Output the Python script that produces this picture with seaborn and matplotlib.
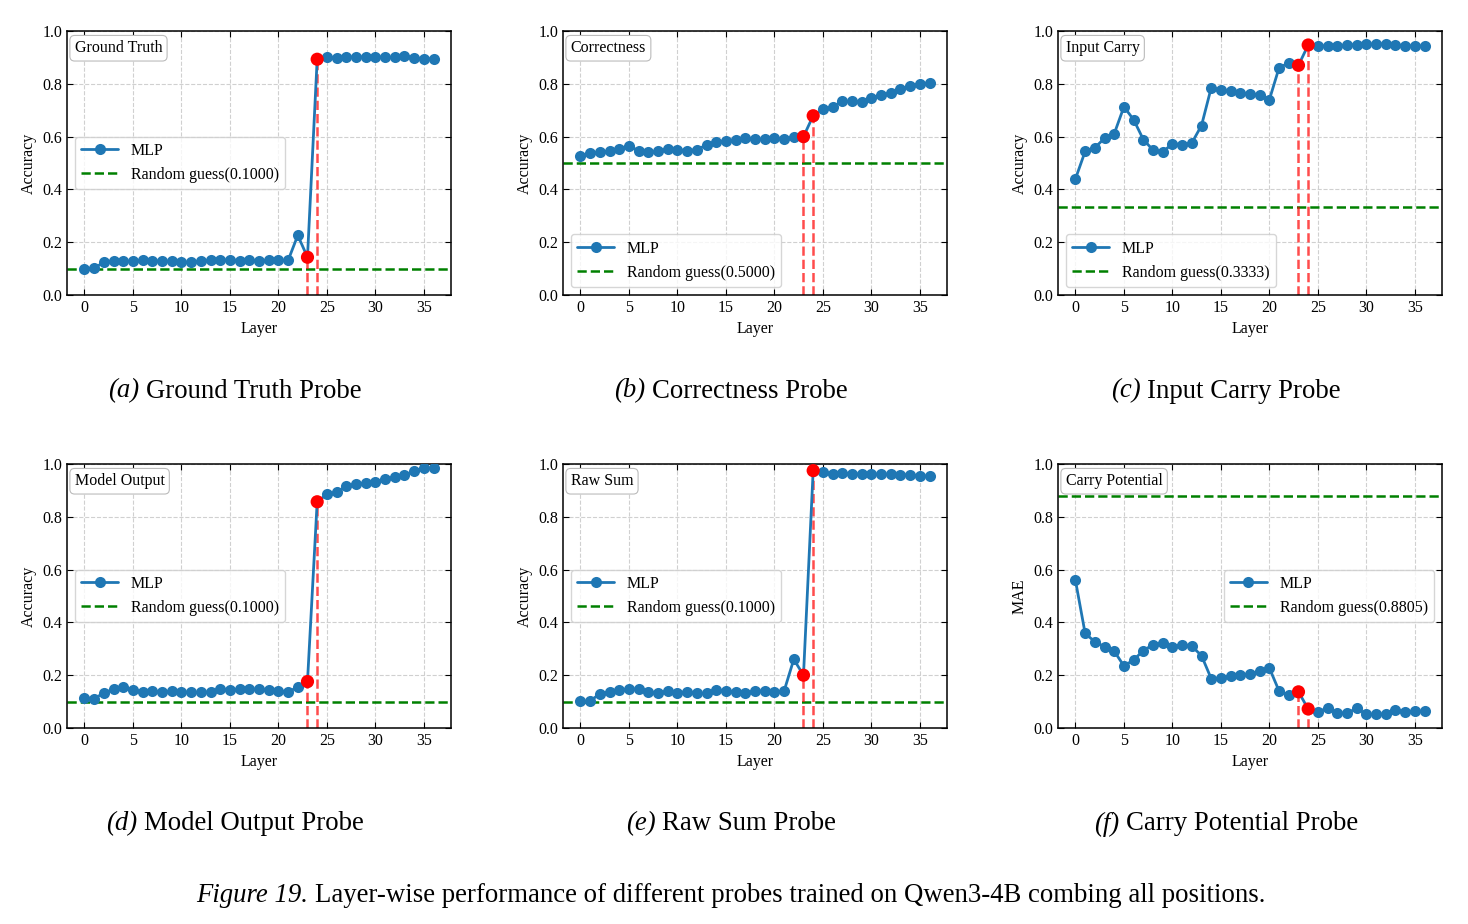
import matplotlib
matplotlib.use("Agg")
import matplotlib.pyplot as plt
import seaborn as sns
import pandas as pd

layers = list(range(37))

ground_truth = [0.100, 0.102, 0.124, 0.130, 0.128, 0.128, 0.131, 0.130, 0.128, 0.128,
                0.125, 0.124, 0.128, 0.131, 0.131, 0.134, 0.130, 0.131, 0.130, 0.131,
                0.131, 0.131, 0.226, 0.143, 0.893, 0.901, 0.896, 0.900, 0.903, 0.901,
                0.903, 0.901, 0.900, 0.904, 0.898, 0.895, 0.895]
correctness = [0.527, 0.536, 0.540, 0.546, 0.554, 0.566, 0.546, 0.540, 0.544, 0.554,
               0.550, 0.547, 0.551, 0.568, 0.579, 0.585, 0.588, 0.595, 0.590, 0.590,
               0.594, 0.592, 0.597, 0.600, 0.679, 0.703, 0.713, 0.733, 0.733, 0.731,
               0.748, 0.756, 0.766, 0.779, 0.793, 0.799, 0.804]
input_carry = [0.440, 0.544, 0.558, 0.594, 0.611, 0.713, 0.664, 0.589, 0.549, 0.542,
               0.573, 0.570, 0.576, 0.642, 0.785, 0.776, 0.774, 0.766, 0.762, 0.756,
               0.740, 0.861, 0.879, 0.870, 0.947, 0.943, 0.944, 0.943, 0.948, 0.948,
               0.949, 0.952, 0.951, 0.948, 0.944, 0.944, 0.943]
model_output = [0.115, 0.111, 0.133, 0.147, 0.154, 0.144, 0.137, 0.140, 0.137, 0.139,
                0.137, 0.135, 0.135, 0.137, 0.149, 0.144, 0.147, 0.147, 0.147, 0.143,
                0.140, 0.138, 0.154, 0.176, 0.857, 0.885, 0.893, 0.915, 0.924, 0.928,
                0.932, 0.943, 0.949, 0.957, 0.975, 0.984, 0.985]
raw_sum = [0.101, 0.102, 0.130, 0.137, 0.144, 0.147, 0.148, 0.137, 0.133, 0.139,
           0.134, 0.137, 0.131, 0.131, 0.144, 0.140, 0.138, 0.133, 0.140, 0.140,
           0.135, 0.140, 0.260, 0.200, 0.975, 0.968, 0.963, 0.966, 0.963, 0.962,
           0.962, 0.962, 0.961, 0.960, 0.958, 0.956, 0.953]
carry_potential = [0.559, 0.358, 0.327, 0.308, 0.291, 0.235, 0.258, 0.293, 0.316, 0.322,
                   0.307, 0.316, 0.310, 0.274, 0.187, 0.190, 0.197, 0.200, 0.206, 0.215,
                   0.227, 0.140, 0.125, 0.137, 0.072, 0.061, 0.076, 0.058, 0.056, 0.075,
                   0.052, 0.052, 0.054, 0.067, 0.062, 0.064, 0.063]

probe_names = ["Ground Truth", "Correctness", "Input Carry",
               "Model Output", "Raw Sum", "Carry Potential"]
random_guess = [0.1000, 0.5000, 0.3333, 0.1000, 0.1000, 0.8805]
y_labels = ["Accuracy", "Accuracy", "Accuracy", "Accuracy", "Accuracy", "MAE"]
sub_captions = ["(a)", "(b)", "(c)", "(d)", "(e)", "(f)"]
highlight_layers = [23, 24]

series = [ground_truth, correctness, input_carry, model_output, raw_sum, carry_potential]
legend_locs = ["center left", "lower left", "lower left",
               "center left", "center left", "center right"]

sns.set_style("ticks")
plt.rcParams["font.family"] = ["Liberation Serif", "DejaVu Serif"]
for key in ["text.color", "axes.labelcolor", "xtick.color", "ytick.color", "axes.edgecolor"]:
    plt.rcParams[key] = "black"

W, H = 1468, 924
fig = plt.figure(figsize=(W / 100, H / 100), dpi=100)
renderer = fig.canvas.get_renderer()


def mixed_caption(x_px, y_px, italic_part, rest, size):
    # italic lead-in followed by upright text, centred as one line
    t1 = fig.text(0, 1 - y_px / H, italic_part, style="italic", fontsize=size, va="center")
    t2 = fig.text(0, 1 - y_px / H, rest, fontsize=size, va="center")
    w1 = t1.get_window_extent(renderer).width
    w2 = t2.get_window_extent(renderer).width
    gap = size * 0.25 * 100 / 72
    start = x_px - (w1 + gap + w2) / 2
    t1.set_x(start / W)
    t2.set_x((start + w1 + gap) / W)


lefts = [67, 563, 1058]
tops = [31, 464]
ax_w, ax_h = 384, 264
small = 11.5

for i, name in enumerate(probe_names):
    row, col = divmod(i, 3)
    ax = fig.add_axes([lefts[col] / W, 1 - (tops[row] + ax_h) / H, ax_w / W, ax_h / H])

    df = pd.DataFrame({"Layer": layers, "value": series[i]})
    sns.lineplot(data=df, x="Layer", y="value", ax=ax, color="#1f77b4", lw=2,
                 marker="o", markersize=8, markeredgewidth=0, label="MLP", zorder=3)
    ax.axhline(random_guess[i], color="green", ls="--", lw=1.8,
               label=f"Random guess({random_guess[i]:.4f})", zorder=2)

    hl = df[df["Layer"].isin(highlight_layers)]
    ax.vlines(hl["Layer"], 0, hl["value"], colors="red", linestyles="--",
              lw=1.8, alpha=0.7, zorder=2)
    sns.scatterplot(data=hl, x="Layer", y="value", ax=ax, color="red", s=90,
                    edgecolor="none", zorder=4, legend=False)

    ax.set_ylim(0, 1.0)
    ax.set_xticks(range(0, 36, 5))
    ax.set_yticks([0, 0.2, 0.4, 0.6, 0.8, 1.0])
    ax.set_yticklabels(["0.0", "0.2", "0.4", "0.6", "0.8", "1.0"])
    ax.set_xlabel("Layer", fontsize=small)
    ax.set_ylabel(y_labels[i], fontsize=small)
    ax.tick_params(direction="in", top=True, right=True, labelsize=small, length=4)
    ax.grid(True, ls="--", color="#d0d0d0", lw=0.8)
    for s in ax.spines.values():
        s.set_linewidth(1.1)

    ax.legend(loc=legend_locs[i], fontsize=small, frameon=True, fancybox=True,
              edgecolor="#cccccc", handlelength=2.3)
    ax.text(0.02, 0.965, name, transform=ax.transAxes, ha="left", va="top",
            fontsize=small, zorder=5,
            bbox=dict(boxstyle="round,pad=0.3", fc="white", ec="#bbbbbb", lw=0.8))

    mixed_caption(lefts[col] + 168, tops[row] + 360, sub_captions[i], name + " Probe", 19.3)

mixed_caption(731, 895, "Figure 19.",
              "Layer-wise performance of different probes trained on Qwen3-4B combing all positions.",
              19.3)

fig.savefig("out.png", dpi=100)
